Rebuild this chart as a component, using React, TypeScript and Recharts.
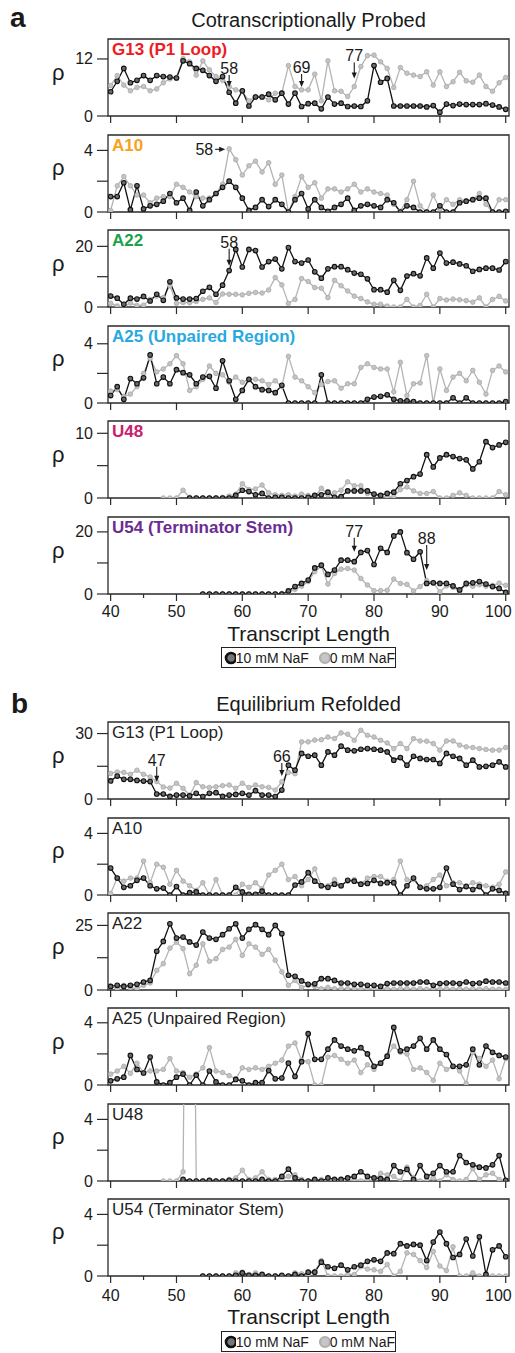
import React from "react";
import { LineChart, Line, XAxis, YAxis, ReferenceArea, ReferenceDot } from "recharts";

const FONT = '"Liberation Sans", Arial, Helvetica, sans-serif';
const _ = null;

// transcript lengths (x categories)
const lengths = [
  40, 41, 42, 43, 44, 45, 46, 47, 48, 49, 50,
  51, 52, 53, 54, 55, 56, 57, 58, 59, 60,
  61, 62, 63, 64, 65, 66, 67, 68, 69, 70,
  71, 72, 73, 74, 75, 76, 77, 78, 79, 80,
  81, 82, 83, 84, 85, 86, 87, 88, 89, 90,
  91, 92, 93, 94, 95, 96, 97, 98, 99, 100,
];
const xTicks = [40, 45, 50, 55, 60, 65, 70, 75, 80, 85, 90, 95, 100];

// ---- a: cotranscriptionally probed (K = 10 mM NaF, G = 0 mM NaF) ----
const g13CoK = [5.1, 7.3, 10, 7, 7.5, 8.5, 7.5, 8.5, 8.3, 8.2, 8,
  11.6, 11, 10, 9.6, 8.5, 7.3, 8.3, 5.0, 2.7, 5.3,
  2.1, 4, 4, 4.6, 3.4, 4.8, 2.5, 4.8, 2, 2.6,
  2.7, 1.5, 4, 2.5, 2.7, 2, 2.1, 2, 3.2, 10.6,
  7.1, 7.9, 2.1, 2.1, 2.1, 2.1, 2.1, 1.9, 2.2, 0.8,
  2.5, 2.2, 2.5, 2.4, 2.4, 2.4, 2.6, 2.3, 1.9, 1.4];
const g13CoG = [6.4, 8.5, 6.5, 5.3, 6, 6.2, 5.3, 5.7, 7, 7.8, 8.1,
  12.1, 11.4, 8.6, 11.6, 9.7, 8.3, 7.5, 6.2, 5.5, 5.2,
  3.2, 4.1, 4.1, 3.4, 4.8, 4.8, 10.6, 6.2, 5.5, 5.5,
  8.8, 3.2, 11.6, 5.3, 5.2, 4.1, 6.2, 10.4, 12.7, 12.8,
  11.4, 10, 6, 10.2, 9, 8.6, 8.3, 9.3, 6.5, 9.3,
  6.2, 7.2, 9.2, 7.4, 7.1, 8.6, 6.2, 5.2, 7, 8.1];

const a10CoK = [1.0, 1.0, 1.9, 0.15, 1.7, 0.2, 0.4, 0.5, 0.7, 1.2, 0.6,
  0.9, 0.1, 1.3, 0.4, 0.8, 1.2, 1.6, 2.0, 1.6, 0.9,
  0.1, 0.3, 0.8, 0.35, 0.8, 0.5, 0, 0.8, 1.2, 0.2,
  0.8, 0.3, 0.05, 0.3, 0.5, 0.9, 0.1, 0.4, 0.5, 0.4,
  0.3, 0.8, 0.6, 0, 0.4, 0.3, 0, 0, 0, 0.4,
  0, 0, 0.6, 0.7, 0.8, 0.9, 0.9, 0, 0, 0.05];
const a10CoG = [0.1, 1.7, 2.3, 1.7, 1.1, 1.1, 0.6, 0.9, 1.0, 1.0, 1.8,
  1.6, 1.3, 1.0, 0.9, 0.9, 1.2, 1.8, 4.1, 3.4, 2.4,
  3.0, 3.3, 2.6, 3.2, 1.8, 2.4, 0, 1.0, 2.3, 1.6,
  1.9, 0.9, 1.5, 1.5, 1.3, 1.5, 1.8, 1.3, 1.5, 1.3,
  1.2, 1.1, 0.5, 0.05, 0.8, 2.0, 0.4, 0, 1.1, 0.2,
  0.8, 0.5, 0.8, 0.7, 0.8, 1.2, 0.5, 0, 0.8, 0.8];

const a22CoK = [3.6, 2.9, 0.9, 2.9, 2.6, 3.5, 2, 4.2, 2.2, 8.3, 3,
  2.6, 2.6, 2.8, 5.2, 6.5, 4.2, 7.2, 12, 19, 13.2,
  19, 18.6, 13.2, 15, 15.8, 12.6, 19.6, 15, 14.5, 15.5,
  11.6, 9.5, 12.6, 13.3, 13.3, 12.3, 11.2, 10.8, 9.3, 5.7,
  5.7, 4.9, 8.8, 5.5, 10.2, 11, 10.3, 16.2, 12.8, 17.8,
  14.5, 14.8, 14.2, 13.6, 11.8, 12.4, 12.8, 12.8, 12.2, 15];
const a22CoG = [1.2, 0.3, 0, 1.3, 0.5, 0.6, 2.5, 3.6, 3.1, 7, 1.2,
  1.5, 1.4, 1.8, 2.5, 3.0, 1.5, 4.3, 4.2, 4.2, 4.0,
  4.5, 4.8, 4.6, 5.6, 9.7, 7.3, 1.2, 2.5, 9.4, 8.4,
  6.4, 6.2, 3.1, 8.8, 7, 5.3, 3.6, 2.8, 1.7, 0.9,
  0.9, 0.3, 0, 0, 2.5, 0, 0.5, 4.2, 0, 2.8,
  2.3, 2.6, 2.4, 2.1, 1.6, 3.0, 0, 2.5, 3.5, 2.0];

const a25CoK = [0.5, 1.1, 0.25, 1.65, 1.3, 1.7, 3.25, 1.3, 1.75, 1.3, 2.25,
  2.05, 1.9, 1.3, 1.75, 1.8, 1.0, 2.85, 1.5, 0.25, 0.85,
  1.6, 1.1, 0.9, 0.85, 0.7, 1.2, 0, 0, 0, 0,
  0, 1.9, 0, 0, 0, 0, 0, 0, 0.25, 0.4,
  0.45, 0.55, 0.25, 0.15, 0.15, 0.1, 0, 0, 0, 0,
  0, 0.35, 0, 0.35, 0, 0, 0, 0, 0, 0.1];
const a25CoG = [0.8, 0.9, 0.45, 0.6, 1.1, 2.0, 3.0, 2.1, 2.3, 2.65, 3.2,
  2.65, 0.85, 1.1, 1.6, 2.5, 2.0, 1.9, 1.4, 1.75, 1.4,
  1.6, 1.6, 1.5, 1.25, 1.5, 1.1, 3.15, 1.75, 1.5, 1.1,
  0.7, 1.25, 1.45, 1.5, 1.0, 1.3, 1.3, 2.4, 2.65, 2.4,
  2.3, 2.3, 0.75, 2.75, 0.5, 1.3, 1.35, 3.2, 0, 2.3,
  0.85, 1.75, 2.0, 1.5, 2.2, 1.4, 0.6, 2.2, 2.5, 2.1];

const u48CoK = [_, _, _, _, _, _, _, _, _, _, _,
  _, 0, 0, 0, 0, 0, 0, 0, 0.4, 1.2,
  1.0, 0.5, 0.7, 0, 0.1, 0.1, 0, 0, 0, 0.1,
  0.4, 0.5, 0.9, 0.1, 0.2, 1.1, 1.1, 1.1, 1.1, 0.6,
  0.4, 0.7, 0.9, 2.2, 2.7, 3.3, 3.7, 6.7, 4.8, 6.2,
  6.7, 6.4, 6.1, 5.9, 4.5, 5.6, 8.7, 7.8, 8.2, 8.6];
const u48CoG = [_, _, _, _, _, _, _, _, 0, 0, 0,
  1.2, 0.1, 0, 0, 0, 0, 0.1, 0.3, 0.6, 2.2,
  1.3, 1.4, 2.0, 0.8, 0.5, 0.4, 0.5, 0.3, 0.6, 0.4,
  0.2, 1.5, 0.5, 0.8, 1.2, 2.5, 1.9, 1.9, 0.7, 0.5,
  0.3, 0.1, 0.2, 1.3, 1.7, 1.1, 0.7, 0.7, 1.0, 0,
  0, 0.4, 0.8, 0.4, 0, 0, 0, 0, 1.0, 0.5];

const u54CoK = [_, _, _, _, _, _, _, _, _, _, _,
  _, _, _, 0, 0, 0, 0, 0, 0, 0,
  0, 0, 0, 0, 0, 0, 1.0, 2.4, 3.4, 4.5,
  8.4, 9.3, 6.3, 7.7, 10.9, 10.9, 10.4, 13.4, 14, 9.5,
  14.7, 13.4, 18.7, 20, 13.3, 11.2, 13.6, 3.4, 3.6, 3.4,
  3.4, 2.6, 1.3, 3.4, 3.6, 4.0, 3.2, 2.4, 1.8, 0.5];
const u54CoG = [_, _, _, _, _, _, _, _, _, _, _,
  _, _, _, 0, 0, 0, 0, 0, 0, 0,
  0, 0, 0, 0, 0, 0.2, 0.5, 1.5, 2.5, 4.0,
  7.2, 9.0, 3.2, 6.6, 8, 8.2, 7.7, 5, 2.9, 1.1,
  1.1, 1.2, 4.8, 3.4, 3.1, 1.0, 2.4, 4.3, 3.7, 0.7,
  2.6, 2.1, 1.0, 3.0, 2.5, 3.0, 2.5, 2.8, 3.5, 2.8];

// ---- b: equilibrium refolded ----
const g13EqK = [8.3, 10.5, 9.0, 9.0, 8.5, 8.2, 8.0, 2.3, 2.3, 1.2, 1.8,
  1.8, 1.4, 2.6, 1.1, 2.6, 2.9, 1.2, 1.8, 2.1, 2.6,
  1.8, 3.8, 1.8, 1.8, 1.1, 4.1, 15.5, 13.2, 20.9, 19.6,
  20.1, 15.5, 21.6, 20.1, 24.2, 22.4, 22.1, 22.8, 23.1, 22.8,
  22.4, 21.6, 17.8, 19, 15.5, 19.6, 18.6, 18.1, 18.1, 16.3,
  20.9, 19.6, 18.6, 15.5, 17.8, 14.7, 15, 15.5, 17, 14.7];
const g13EqG = [11.7, 12.4, 12.2, 11.3, 13.2, 11.3, 10.1, 8.0, 5.5, 5.0, 7.2,
  4.9, 1.8, 7.5, 5.6, 5.3, 5.6, 6.1, 6.4, 4.9, 7.2,
  5.3, 6.4, 5.6, 5.3, 4.1, 7.9, 12.2, 11.6, 26.2, 26.2,
  27, 27.2, 28.4, 27.7, 30.3, 29.7, 26.9, 31.5, 29.2, 28.4,
  26.9, 25.7, 23.1, 25.4, 23.1, 27.7, 26.6, 26.5, 25.4, 22.4,
  26.6, 26.6, 24.7, 23.9, 23.6, 23.1, 22.7, 22.4, 22.4, 23.6];

const a10EqK = [1.75, 1.1, 0.5, 0.6, 0.95, 1.1, 0.6, 0.4, 0.45, 0, 0.55,
  0, 0.15, 0.2, 0, 0, 0, 0, 0, 0.5, 0.2,
  0.05, 0.05, 0.25, 0, 0, 0, 0, 0.65, 0.85, 1.45,
  0.9, 0.6, 0.5, 0.7, 0.6, 0.95, 0.9, 0.7, 0.75, 0.95,
  0.75, 0.8, 0.8, 0, 0.6, 1.1, 0.5, 0.4, 0.4, 0.5,
  1.75, 0.7, 0.35, 0.55, 0.35, 0.55, 0, 0.4, 0.3, 0.1];
const a10EqG = [0.1, 1.1, 0.9, 1.1, 1.1, 2.2, 0.8, 2.0, 1.8, 0.7, 1.6,
  0.9, 0.6, 0.3, 0.8, 0, 1.0, 0, 0, 0, 0.7,
  0.5, 0.8, 0.4, 1.3, 1.6, 2.0, 1.0, 1.2, 0.6, 1.0,
  1.7, 0.6, 0.6, 1.0, 0.6, 0.9, 1.0, 0.7, 1.1, 1.2,
  1.2, 0.9, 1.0, 2.2, 1.0, 1.0, 0.5, 0.6, 1.0, 1.3,
  0.6, 0.8, 0.8, 0.6, 0.8, 0.7, 0.6, 0.5, 0.7, 1.5];

const a22EqK = [1.4, 1.8, 1.4, 1.8, 2.2, 3.1, 3.7, 15, 18.8, 25.6, 20.1,
  20.5, 18.6, 17.4, 22.4, 20.1, 19.6, 21.4, 23.7, 25.6, 20.1,
  23.5, 25.3, 23.5, 21.4, 25, 21.8, 5.7, 5.3, 3.5, 2.2,
  2.4, 4.4, 4.4, 3.7, 2.7, 2.7, 2.2, 2.2, 1.8, 1.8,
  1.4, 2.5, 2.7, 2.7, 2.7, 2.7, 3.1, 3.1, 1.8, 2.5,
  2.7, 2.7, 2.5, 3.1, 2.5, 2.7, 3.4, 3.1, 3.1, 2.7];
const a22EqG = [1.4, 0.5, 1.8, 0.9, 0.5, 1.8, 2.7, 7.6, 10.2, 16.2, 18.5,
  16, 6.3, 9.6, 17.9, 11.1, 12.1, 15.7, 16.6, 19.6, 13.4,
  17.9, 16.6, 13.8, 15.7, 11.5, 7, 1.8, 3.7, 1.0, 1.8,
  1.4, 0.5, 1.0, 0.5, 0.5, 0.5, 0.5, 0.3, 0.5, 0.3,
  0.3, 0.5, 0.3, 0.5, 0.5, 0.3, 0.5, 0.3, 0.5, 0.3,
  0.5, 0.3, 0.5, 0.3, 0.5, 0.3, 0.5, 0.3, 0.3, 0.2];

const a25EqK = [0.27, 0.4, 0.5, 1.9, 1.0, 0.77, 1.8, 0.2, 0, 0.15, 0.5,
  0.7, 0, 0.63, 0, 0.9, 0.2, 0, 0, 0.36, 0.27,
  0, 0.15, 0.15, 0.93, 0.4, 0.45, 1.4, 0.55, 1.5, 3.3,
  1.65, 1.65, 2.3, 2.9, 2.5, 2.3, 2.2, 2.4, 2.0, 1.2,
  1.4, 1.85, 3.7, 2.2, 2.3, 2.5, 3.0, 2.3, 2.9, 2.3,
  1.96, 1.2, 1.2, 1.3, 2.3, 1.3, 2.5, 2.1, 1.9, 1.8];
const a25EqG = [0.7, 0.9, 1.2, 0.75, 1.4, 0.8, 0.9, 0.9, 1.0, 1.7, 0.9,
  0.8, 0.5, 0.7, 1.1, 2.4, 0.9, 0.8, 0.6, 0.4, 1.1,
  1.0, 1.1, 1.0, 1.2, 1.4, 1.6, 2.5, 2.7, 1.6, 1.5,
  0, 0, 1.8, 1.9, 1.65, 1.4, 1.6, 0.8, 1.3, 1.0,
  1.4, 1.85, 2.5, 2.1, 2.0, 1.0, 1.1, 0.8, 0.3, 1.4,
  1.0, 1.2, 0.9, 0.1, 2.1, 1.7, 1.2, 1.6, 0.4, 1.7];

const u48EqK = [_, _, _, _, _, _, _, _, _, _, _,
  0.1, 0, 0, 0, 0.05, 0, 0, 0.05, 0, 0,
  0, 0, 0.1, 0, 0, 0.3, 0.77, 0.2, 0, 0,
  0.1, 0, 0.2, 0.1, 0.1, 0.2, 0.3, 0.6, 0.3, 0.2,
  0.15, 0.1, 1.0, 0.6, 0.75, 0.1, 1.0, 0.3, 0.5, 1.0,
  0.6, 0.6, 1.65, 1.2, 1.05, 0.9, 0.85, 1.05, 1.65, 0.05];
const u48EqG = [_, _, _, _, _, _, _, _, 0, 0, 0,
  0.6, 45, 0, 0, 0.05, 0, 0, 0.1, 0.2, 0.7,
  0.1, 0.2, 0.6, 0.1, 0.1, 0.1, 0.3, 0.4, 0.1, 0,
  0, 0.1, 0, 0, 0.1, 0, 0.1, 0, 0.1, 0,
  0.5, 0.4, 0.3, 0, 0.9, 0.2, 0, 0, 0.2, 0,
  0.4, 0.1, 0, 0.1, 0.8, 0.1, 0.4, 0.5, 0.1, 0];

const u54EqK = [_, _, _, _, _, _, _, _, _, _, _,
  _, _, _, 0, 0, 0, 0, 0, 0.05, 0.2,
  0.05, 0.05, 0.1, 0, 0, 0.05, 0, 0.1, 0, 0.25,
  0.25, 0.9, 0.6, 0.5, 0.7, 0.4, 0.6, 0.7, 0.95, 1.05,
  0.95, 1.5, 1.45, 2.1, 1.95, 2.05, 2.0, 1.0, 2.2, 2.85,
  2.1, 1.2, 1.4, 2.4, 1.3, 2.55, 0.1, 1.7, 1.95, 1.25];
const u54EqG = [_, _, _, _, _, _, _, _, _, _, _,
  _, _, _, 0, 0, 0, 0, 0, 0.2, 0.25,
  0.1, 0.2, 0.05, 0, 0, 0, 0, 0.2, 0.15, 0.05,
  0.3, 1.0, 0, 0, 0, 0.1, 0.1, 0.6, 0.45, 0.4,
  0.3, 0.75, 0, 0.3, 1.5, 1.4, 1.0, 0.55, 1.6, 0.65,
  0.35, 1.9, 0, 0, 0.2, 0, 0, 0, 0, 0];

type Note = { x: number; y: number; text: string; len: number; dir?: "down" | "right" };
type PanelDef = {
  name: string;
  color: string;
  bold: boolean;
  top: number;
  max: number;
  yMajor: number[];
  yMinor: number[];
  k: (number | null)[];
  g: (number | null)[];
  notes: Note[];
  bottom?: boolean;
  labelDy?: number;
};

const panelsA: PanelDef[] = [
  { name: "G13 (P1 Loop)", color: "#ed1c24", bold: true, top: 39, max: 16.2, yMajor: [0, 12], yMinor: [], k: g13CoK, g: g13CoG,
    notes: [{ x: 58, y: 6.1, text: "58", len: 12 }, { x: 69, y: 6.1, text: "69", len: 13 }, { x: 77, y: 7.9, text: "77", len: 16 }] },
  { name: "A10", color: "#f7a21b", bold: true, top: 134.5, max: 5, yMajor: [0, 4], yMinor: [2], k: a10CoK, g: a10CoG,
    notes: [{ x: 57.4, y: 4.07, text: "58", len: 10, dir: "right" }] },
  { name: "A22", color: "#19a24a", bold: true, top: 230, max: 25.4, yMajor: [0, 20], yMinor: [10], k: a22CoK, g: a22CoG,
    notes: [{ x: 58, y: 13.6, text: "58", len: 17 }] },
  { name: "A25 (Unpaired Region)", color: "#28a9e0", bold: true, top: 325.5, max: 5.2, yMajor: [0, 4], yMinor: [2], k: a25CoK, g: a25CoG, notes: [] },
  { name: "U48", color: "#c7216f", bold: true, top: 421, max: 11.9, yMajor: [0, 10], yMinor: [5], k: u48CoK, g: u48CoG, notes: [] },
  { name: "U54 (Terminator Stem)", color: "#6a2c91", bold: true, top: 517, max: 24.8, yMajor: [0, 20], yMinor: [10], k: u54CoK, g: u54CoG,
    notes: [{ x: 77, y: 13.6, text: "77", len: 14 }, { x: 88, y: 7.7, text: "88", len: 25 }], bottom: true, labelDy: 23 },
];

const panelsB: PanelDef[] = [
  { name: "G13 (P1 Loop)", color: "#222", bold: false, top: 722, max: 35.3, yMajor: [0, 30], yMinor: [15], k: g13EqK, g: g13EqG,
    notes: [{ x: 47, y: 7.9, text: "47", len: 15 }, { x: 66, y: 10.5, text: "66", len: 13 }] },
  { name: "A10", color: "#222", bold: false, top: 817.5, max: 5, yMajor: [0, 4], yMinor: [2], k: a10EqK, g: a10EqG, notes: [] },
  { name: "A22", color: "#222", bold: false, top: 913, max: 29.8, yMajor: [0, 25], yMinor: [12.5], k: a22EqK, g: a22EqG, notes: [] },
  { name: "A25 (Unpaired Region)", color: "#222", bold: false, top: 1008, max: 4.95, yMajor: [0, 4], yMinor: [2], k: a25EqK, g: a25EqG, notes: [] },
  { name: "U48", color: "#222", bold: false, top: 1103.5, max: 5, yMajor: [0, 4], yMinor: [2], k: u48EqK, g: u48EqG, notes: [] },
  { name: "U54 (Terminator Stem)", color: "#222", bold: false, top: 1198.5, max: 5, yMajor: [0, 4], yMinor: [2], k: u54EqK, g: u54EqG,
    notes: [], bottom: true, labelDy: 25 },
];

const W = 515;
const LEFT = 108;
const RIGHT = 509;
const PH = 77;
const MT = 8;
const X_DOMAIN: [number, number] = [39.6, 100.5];
const AXIS = "#2a2a2a";

function makeXTick(showLabels: boolean, labelDy: number) {
  return (props: any) => {
    const { x, y, payload } = props;
    const v = payload.value;
    const major = v % 10 === 0;
    if (!showLabels && !major) return <g />;
    const last = v === 100;
    return (
      <g>
        <line x1={x} x2={x} y1={y} y2={y + (major ? 7 : 4)} stroke={AXIS} strokeWidth={1.2} />
        {showLabels && major ? (
          <text
            x={last ? x + 6 : x}
            y={y + labelDy}
            textAnchor={last ? "end" : "middle"}
            fontSize={16}
            fill="#1a1a1a"
            fontFamily={FONT}
          >
            {v}
          </text>
        ) : null}
      </g>
    );
  };
}

function makeYTick(majors: number[]) {
  return (props: any) => {
    const { x, y, payload } = props;
    const v = payload.value;
    return (
      <g>
        <line x1={x - 11} x2={x} y1={y} y2={y} stroke={AXIS} strokeWidth={1.2} />
        {majors.includes(v) ? (
          <text x={x - 15} y={y + 5.5} textAnchor="end" fontSize={16} fill="#1a1a1a" fontFamily={FONT}>
            {v}
          </text>
        ) : null}
      </g>
    );
  };
}

function Arrow({ cx, cy, note }: { cx: number; cy: number; note: Note }) {
  if (note.dir === "right") {
    return (
      <g>
        <line x1={cx - note.len} x2={cx - 5} y1={cy} y2={cy} stroke="#1a1a1a" strokeWidth={1.1} />
        <polygon points={`${cx - 6},${cy - 2.6} ${cx - 6},${cy + 2.6} ${cx},${cy}`} fill="#1a1a1a" />
        <text x={cx - note.len - 2} y={cy + 5.5} textAnchor="end" fontSize={16} fill="#1a1a1a" fontFamily={FONT}>
          {note.text}
        </text>
      </g>
    );
  }
  return (
    <g>
      <line x1={cx} x2={cx} y1={cy - note.len} y2={cy - 5} stroke="#1a1a1a" strokeWidth={1.1} />
      <polygon points={`${cx - 2.6},${cy - 6} ${cx + 2.6},${cy - 6} ${cx},${cy}`} fill="#1a1a1a" />
      <text x={cx} y={cy - note.len - 1} textAnchor="middle" fontSize={16} fill="#1a1a1a" fontFamily={FONT}>
        {note.text}
      </text>
    </g>
  );
}

function Panel({ p }: { p: PanelDef }) {
  const data = lengths.map((x, i) => ({ x, k: p.k[i], g: p.g[i] }));
  const axisH = p.bottom ? 34 : 10;
  const h = MT + PH + axisH;
  const yTicks = [...p.yMajor, ...p.yMinor].sort((a, b) => a - b);
  return (
    <div style={{ position: "absolute", left: 0, top: p.top - MT, width: W, height: h }}>
      <LineChart width={W} height={h} data={data} margin={{ top: MT, right: W - RIGHT, bottom: 0, left: 0 }}>
        <XAxis
          dataKey="x"
          type="number"
          domain={X_DOMAIN}
          allowDataOverflow
          ticks={xTicks}
          interval={0}
          tick={makeXTick(!!p.bottom, p.labelDy || 23)}
          tickSize={0}
          tickMargin={0}
          tickLine={false}
          axisLine={false}
          height={axisH}
        />
        <YAxis
          type="number"
          domain={[0, p.max]}
          allowDataOverflow
          ticks={yTicks}
          interval={0}
          tick={makeYTick(p.yMajor)}
          tickSize={0}
          tickMargin={0}
          tickLine={false}
          axisLine={false}
          width={LEFT}
        />
        <ReferenceArea x1={X_DOMAIN[0]} x2={X_DOMAIN[1]} y1={0} y2={p.max} fill="none" stroke={AXIS} strokeWidth={1.3} />
        <Line
          dataKey="g"
          type="linear"
          stroke="#b4b4b4"
          strokeWidth={1.3}
          dot={{ r: 2.3, fill: "#c4c4c4", stroke: "#a8a8a8", strokeWidth: 0.8 }}
          activeDot={false}
          isAnimationActive={false}
        />
        <Line
          dataKey="k"
          type="linear"
          stroke="#111"
          strokeWidth={1.3}
          dot={{ r: 2.3, fill: "#6b6b6b", stroke: "#111", strokeWidth: 1.1 }}
          activeDot={false}
          isAnimationActive={false}
        />
        {p.notes.map((n, i) => (
          <ReferenceDot
            key={i}
            x={n.x}
            y={n.y}
            r={0}
            ifOverflow="visible"
            shape={(sp: any) => <Arrow cx={sp.cx} cy={sp.cy} note={n} />}
          />
        ))}
      </LineChart>
      <div style={{ position: "absolute", left: 52, top: MT + PH / 2 - 18, fontSize: 22, lineHeight: "26px", color: "#1a1a1a" }}>ρ</div>
      <div
        style={{
          position: "absolute",
          left: 112,
          top: MT + 2,
          fontSize: 17,
          lineHeight: "17px",
          fontWeight: p.bold ? 700 : 400,
          color: p.color,
          whiteSpace: "nowrap",
        }}
      >
        {p.name}
      </div>
    </div>
  );
}

function Legend({ top }: { top: number }) {
  return (
    <div
      style={{
        position: "absolute",
        left: 221,
        top,
        width: 175,
        height: 21,
        boxSizing: "border-box",
        border: "1.3px solid #222",
        display: "flex",
        alignItems: "center",
        fontSize: 14,
        lineHeight: "16px",
        color: "#1a1a1a",
        whiteSpace: "nowrap",
      }}
    >
      <svg width={15} height={14} style={{ marginLeft: 2 }}>
        <circle cx={7} cy={7} r={5} fill="#777" stroke="#111" strokeWidth={2.6} />
      </svg>
      <span>10 mM NaF</span>
      <svg width={15} height={14} style={{ marginLeft: 9 }}>
        <circle cx={7} cy={7} r={5} fill="#c6c6c6" stroke="#b0b0b0" strokeWidth={2.2} />
      </svg>
      <span>0 mM NaF</span>
    </div>
  );
}

export default function App() {
  return (
    <div
      style={{
        position: "absolute",
        left: 0,
        top: 0,
        width: 515,
        height: 1353,
        overflow: "hidden",
        background: "#fff",
        fontFamily: FONT,
        color: "#1a1a1a",
      }}
    >
      <div style={{ position: "absolute", left: 10, top: 4, fontSize: 28, lineHeight: "28px", fontWeight: 700 }}>a</div>
      <div style={{ position: "absolute", left: LEFT, width: RIGHT - LEFT, top: 9.5, textAlign: "center", fontSize: 20, lineHeight: "20px" }}>
        Cotranscriptionally Probed
      </div>
      {panelsA.map((p) => (
        <Panel key={"a" + p.name} p={p} />
      ))}
      <div style={{ position: "absolute", left: LEFT, width: RIGHT - LEFT, top: 622.5, textAlign: "center", fontSize: 21, lineHeight: "21px" }}>
        Transcript Length
      </div>
      <Legend top={647} />

      <div style={{ position: "absolute", left: 11, top: 690, fontSize: 28, lineHeight: "28px", fontWeight: 700 }}>b</div>
      <div style={{ position: "absolute", left: LEFT, width: RIGHT - LEFT, top: 693.5, textAlign: "center", fontSize: 20, lineHeight: "20px" }}>
        Equilibrium Refolded
      </div>
      {panelsB.map((p) => (
        <Panel key={"b" + p.name} p={p} />
      ))}
      <div style={{ position: "absolute", left: LEFT, width: RIGHT - LEFT, top: 1306, textAlign: "center", fontSize: 21, lineHeight: "21px" }}>
        Transcript Length
      </div>
      <Legend top={1331} />
    </div>
  );
}
